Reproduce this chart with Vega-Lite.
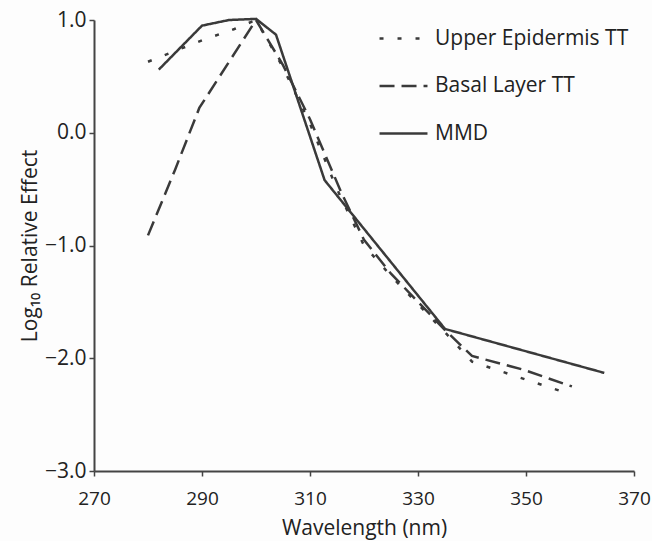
{
  "$schema": "https://vega.github.io/schema/vega-lite/v6.json",
  "width": 540,
  "height": 451,
  "autosize": {"type": "none"},
  "padding": {"left": 94, "top": 20, "right": 18, "bottom": 70},
  "background": "#fdfdfd",
  "config": {
    "font": "Open Sans",
    "view": {"stroke": null},
    "axis": {
      "domainColor": "#444",
      "domainWidth": 2,
      "tickColor": "#444",
      "tickWidth": 1.5,
      "tickSize": 5,
      "grid": false,
      "labelFlush": false,
      "labelColor": "#222",
      "labelFontSize": 21,
      "titleColor": "#222",
      "titleFontSize": 21,
      "titleFontWeight": "normal"
    }
  },
  "data": {
    "values": [
      {"series": "MMD", "wl": 282, "v": 0.56},
      {"series": "MMD", "wl": 290, "v": 0.95},
      {"series": "MMD", "wl": 295, "v": 1.0},
      {"series": "MMD", "wl": 300, "v": 1.01},
      {"series": "MMD", "wl": 303.7, "v": 0.87},
      {"series": "MMD", "wl": 312.7, "v": -0.42},
      {"series": "MMD", "wl": 335, "v": -1.74},
      {"series": "MMD", "wl": 364.5, "v": -2.13},
      {"series": "Basal Layer TT", "wl": 280, "v": -0.91},
      {"series": "Basal Layer TT", "wl": 285, "v": -0.33},
      {"series": "Basal Layer TT", "wl": 289.5, "v": 0.22},
      {"series": "Basal Layer TT", "wl": 300, "v": 1.0},
      {"series": "Basal Layer TT", "wl": 305, "v": 0.6},
      {"series": "Basal Layer TT", "wl": 310, "v": 0.12},
      {"series": "Basal Layer TT", "wl": 315.8, "v": -0.53},
      {"series": "Basal Layer TT", "wl": 320, "v": -0.95},
      {"series": "Basal Layer TT", "wl": 325, "v": -1.25},
      {"series": "Basal Layer TT", "wl": 330, "v": -1.5},
      {"series": "Basal Layer TT", "wl": 335, "v": -1.75},
      {"series": "Basal Layer TT", "wl": 340, "v": -1.98},
      {"series": "Basal Layer TT", "wl": 349.4, "v": -2.1},
      {"series": "Basal Layer TT", "wl": 358.5, "v": -2.25},
      {"series": "Upper Epidermis TT", "wl": 280, "v": 0.63},
      {"series": "Upper Epidermis TT", "wl": 290, "v": 0.82},
      {"series": "Upper Epidermis TT", "wl": 296, "v": 0.92},
      {"series": "Upper Epidermis TT", "wl": 300, "v": 1.0},
      {"series": "Upper Epidermis TT", "wl": 305, "v": 0.58},
      {"series": "Upper Epidermis TT", "wl": 310, "v": 0.08},
      {"series": "Upper Epidermis TT", "wl": 315, "v": -0.5},
      {"series": "Upper Epidermis TT", "wl": 320, "v": -1.0},
      {"series": "Upper Epidermis TT", "wl": 325, "v": -1.27},
      {"series": "Upper Epidermis TT", "wl": 330, "v": -1.52},
      {"series": "Upper Epidermis TT", "wl": 335, "v": -1.77},
      {"series": "Upper Epidermis TT", "wl": 340, "v": -2.03},
      {"series": "Upper Epidermis TT", "wl": 350, "v": -2.19},
      {"series": "Upper Epidermis TT", "wl": 357, "v": -2.3}
    ]
  },
  "mark": {"type": "line", "color": "#3a3a3a", "strokeWidth": 2.5},
  "encoding": {
    "x": {
      "field": "wl",
      "type": "quantitative",
      "scale": {"domain": [270, 370], "nice": false, "zero": false},
      "axis": {"values": [270, 290, 310, 330, 350, 370], "title": "Wavelength (nm)", "labelFontSize": 19, "labelPadding": 13, "titlePadding": 9}
    },
    "y": {
      "field": "v",
      "type": "quantitative",
      "scale": {"domain": [-3, 1], "nice": false, "zero": false},
      "axis": {"values": [-3, -2, -1, 0, 1], "format": ".1f", "title": "Log₁₀ Relative Effect", "labelPadding": 3, "titlePadding": 4}
    },
    "strokeDash": {
      "field": "series",
      "type": "nominal",
      "scale": {
        "domain": ["Upper Epidermis TT", "Basal Layer TT", "MMD"],
        "range": [[4, 14], [15, 7], [1, 0]]
      },
      "legend": {
        "title": null,
        "orient": "none",
        "legendX": 284,
        "legendY": -7,
        "symbolType": "stroke",
        "symbolSize": 2300,
        "symbolStrokeWidth": 2.5,
        "symbolStrokeColor": "#3a3a3a",
        "labelFontSize": 21,
        "labelLimit": 400,
        "labelColor": "#222",
        "labelOffset": 6,
        "rowPadding": 11.5
      }
    },
    "detail": {"field": "series"}
  }
}
